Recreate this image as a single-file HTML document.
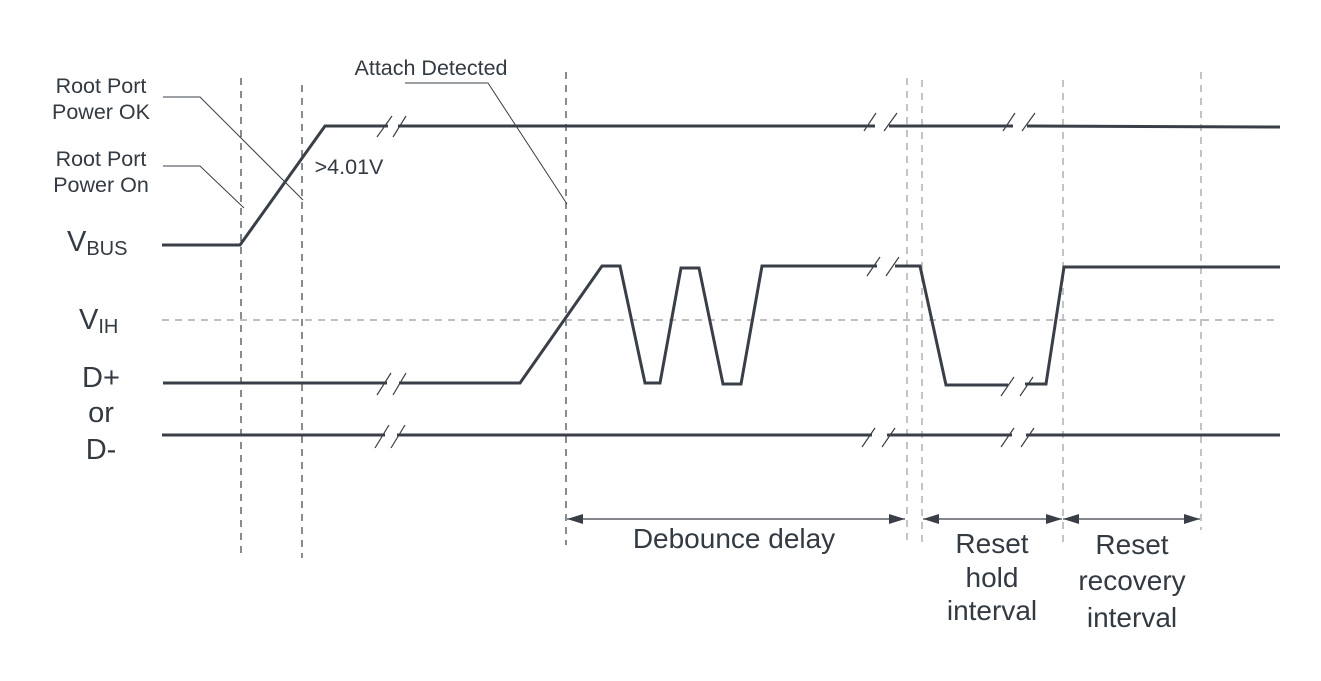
<!DOCTYPE html>
<html><head><meta charset="utf-8"><style>
html,body{margin:0;padding:0;background:#fff;}
svg{display:block;font-family:"Liberation Sans",sans-serif;}
</style></head><body>
<svg width="1321" height="681" viewBox="0 0 1321 681" xmlns="http://www.w3.org/2000/svg">
<defs>
<marker id="ah" viewBox="0 0 16 10" refX="16" refY="5" markerWidth="16" markerHeight="10" markerUnits="userSpaceOnUse" orient="auto-start-reverse"><path d="M0,0 L16,5 L0,10 z" fill="#3a3f47"/></marker>
</defs>
<g fill="none" stroke="#3a3f47" stroke-width="1.2" stroke-dasharray="7,6">
<line x1="241" y1="78" x2="241" y2="555"/>
<line x1="302" y1="85" x2="302" y2="558"/>
<line x1="566" y1="72" x2="566" y2="545"/>
</g>
<g fill="none" stroke="#aaa" stroke-width="1.4" stroke-dasharray="7,6">
<line x1="907" y1="78" x2="907" y2="545"/>
<line x1="922" y1="80" x2="922" y2="545"/>
<line x1="1063" y1="80" x2="1063" y2="545"/>
<line x1="1201" y1="72" x2="1201" y2="530"/>
<line x1="162" y1="320" x2="1280" y2="320"/>
</g>
<g fill="none" stroke="#3a3f47" stroke-width="3" stroke-linejoin="miter">
<polyline points="162,245 240,245 325,126 388,126"/>
<line x1="398" y1="126" x2="875" y2="126"/>
<line x1="889" y1="126" x2="1013" y2="126"/>
<line x1="1027" y1="126" x2="1280" y2="127"/>
<polyline points="163,383 387,383"/>
<polyline points="399,383 520,383 602,266 620,266 645,383 660,383 681,268 699,268 723,384 741,384 762,266 877,266"/>
<polyline points="895,266 920,266 946,385 1008,385"/>
<polyline points="1025,384 1046,384 1064,267 1280,267"/>
<line x1="162" y1="435" x2="385" y2="435"/>
<line x1="397" y1="435" x2="872" y2="435"/>
<line x1="887" y1="435" x2="1012" y2="435"/>
<line x1="1026" y1="435" x2="1280" y2="435"/>
</g>
<g stroke="#3a3f47" stroke-width="1.2">
<line x1="377" y1="137" x2="392" y2="116"/><line x1="393" y1="137" x2="406" y2="116"/>
<line x1="864" y1="131" x2="876" y2="113"/><line x1="884" y1="131" x2="897" y2="113"/>
<line x1="1003" y1="131" x2="1015" y2="113"/><line x1="1022" y1="131" x2="1035" y2="113"/>
<line x1="377" y1="395" x2="391" y2="373"/><line x1="393" y1="395" x2="406" y2="373"/>
<line x1="867" y1="276" x2="880" y2="257"/><line x1="886" y1="276" x2="899" y2="257"/>
<line x1="1001" y1="396" x2="1014" y2="377"/><line x1="1020" y1="396" x2="1033" y2="377"/>
<line x1="375" y1="448" x2="389" y2="425"/><line x1="391" y1="448" x2="405" y2="425"/>
<line x1="862" y1="447" x2="875" y2="428"/><line x1="882" y1="447" x2="895" y2="428"/>
<line x1="1001" y1="447" x2="1014" y2="428"/><line x1="1021" y1="447" x2="1034" y2="428"/>
</g>
<g fill="none" stroke="#3a3f47" stroke-width="1">
<polyline points="163,97 200,97 303,200"/>
<polyline points="163,166 200,166 244,208"/>
<polyline points="405,83 488,83 567,204"/>
</g>
<g stroke="#3a3f47" stroke-width="1.2">
<line x1="567" y1="519" x2="905" y2="519" marker-end="url(#ah)" marker-start="url(#ah)"/>
<line x1="923" y1="519" x2="1062" y2="519" marker-end="url(#ah)" marker-start="url(#ah)"/>
<line x1="1063" y1="519" x2="1200" y2="519" marker-end="url(#ah)" marker-start="url(#ah)"/>
</g>
<g fill="#333a42" font-size="21.5" text-anchor="middle">
<text x="101" y="93">Root Port</text>
<text x="101" y="119">Power OK</text>
<text x="101" y="166">Root Port</text>
<text x="101" y="192">Power On</text>
<text x="431" y="75">Attach Detected</text>
<text x="349" y="174">&gt;4.01V</text>
</g>
<g fill="#333a42" font-size="29">
<text x="67" y="251">V<tspan font-size="20" dy="4">BUS</tspan></text>
<text x="79" y="329">V<tspan font-size="20" dy="4">IH</tspan></text>
<text x="101" y="387" text-anchor="middle">D+</text>
<text x="101" y="422" text-anchor="middle">or</text>
<text x="101" y="459" text-anchor="middle">D-</text>
</g>
<g fill="#333a42" font-size="28" text-anchor="middle">
<text x="734" y="548">Debounce delay</text>
<text x="992" y="553">Reset</text>
<text x="992" y="587">hold</text>
<text x="992" y="620">interval</text>
<text x="1132" y="554">Reset</text>
<text x="1132" y="590">recovery</text>
<text x="1132" y="627">interval</text>
</g>
</svg>
</body></html>
